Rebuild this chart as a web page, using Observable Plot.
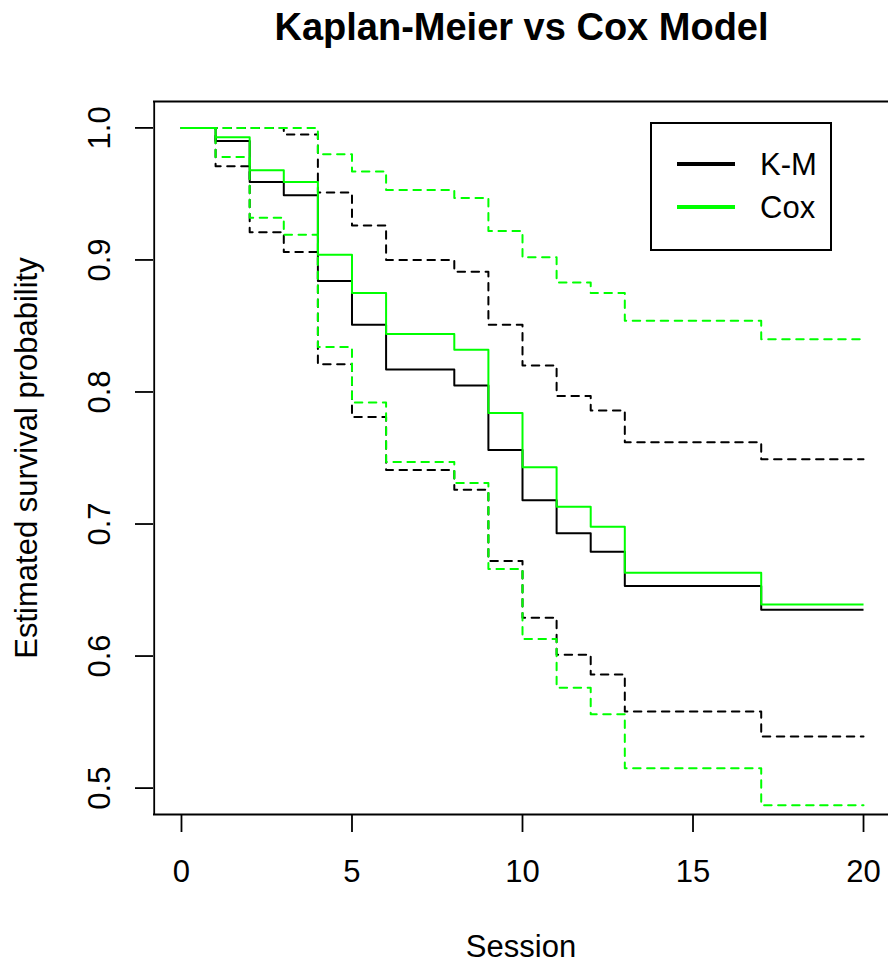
<!DOCTYPE html>
<html>
<head>
<meta charset="utf-8">
<script src="https://cdn.jsdelivr.net/npm/d3@7"></script>
<script src="https://cdn.jsdelivr.net/npm/@observablehq/plot@0.6"></script>
<style>
  html, body { margin: 0; padding: 0; background: #fff; }
  body { width: 888px; height: 963px; overflow: hidden; font-family: "Liberation Sans", Arial, sans-serif; color: #000; }
  #wrap { position: relative; width: 888px; height: 963px; }
  #title { height: 60px; line-height: 55px; margin-left: 153px; width: 737px; text-align: center;
           font-weight: bold; font-size: 38px; white-space: nowrap; }
  #legend { position: absolute; left: 650px; top: 122px; width: 178px; height: 125px;
            border: 2px solid #000; background: #fff; }
  #legend .sw { position: absolute; left: 25px; width: 58px; height: 3.5px; }
  #legend .lab { position: absolute; left: 108px; font-size: 31px; line-height: 31px; white-space: nowrap; }
</style>
</head>
<body>
<div id="wrap">
  <div id="title">Kaplan-Meier vs Cox Model</div>
  <div id="chart"></div>
  <div id="legend"></div>
</div>
<script>
// Follow-up sessions at which the survival curves step down
const times = [0, 1, 2, 3, 4, 5, 6, 8, 9, 10, 11, 12, 13, 17, 20];

// Kaplan-Meier estimate with 95% confidence band
const kmSurv  = [1.000, 0.990, 0.959, 0.949, 0.884, 0.851, 0.817, 0.805, 0.756, 0.718, 0.693, 0.679, 0.653, 0.635, 0.635];
const kmUpper = [1.000, 1.000, 1.000, 0.995, 0.951, 0.926, 0.900, 0.891, 0.851, 0.820, 0.797, 0.786, 0.762, 0.749, 0.749];
const kmLower = [1.000, 0.971, 0.921, 0.906, 0.821, 0.781, 0.741, 0.726, 0.672, 0.629, 0.601, 0.586, 0.558, 0.539, 0.539];

// Cox model prediction with 95% confidence band
const coxSurv  = [1.000, 0.993, 0.968, 0.959, 0.904, 0.875, 0.844, 0.832, 0.784, 0.743, 0.713, 0.698, 0.663, 0.639, 0.639];
const coxUpper = [1.000, 1.000, 1.000, 1.000, 0.980, 0.967, 0.953, 0.947, 0.922, 0.902, 0.883, 0.875, 0.854, 0.840, 0.840];
const coxLower = [1.000, 0.978, 0.932, 0.919, 0.834, 0.792, 0.747, 0.731, 0.666, 0.613, 0.576, 0.556, 0.515, 0.487, 0.487];

// Axis ticks and legend entries
const xTicks = [0, 5, 10, 15, 20];
const yTicks = [0.5, 0.6, 0.7, 0.8, 0.9, 1.0];
const legendItems = [
  {label: "K-M", color: "#000000"},
  {label: "Cox", color: "#00ff00"}
];

const xDomain = [-0.8, 20.8];
const yDomain = [0.48, 1.02];

const KM = "#000000";
const COX = "#00ff00";

const rows = (vals) => times.map((t, i) => ({t, v: vals[i]}));
const step = (vals, stroke, dashed) => Plot.line(rows(vals), {
  x: "t", y: "v", curve: "step-after", stroke,
  strokeWidth: 2,
  strokeDasharray: dashed ? "7.5,6.5" : null,
  strokeLinecap: dashed ? "round" : "butt"
});

const chart = Plot.plot({
  width: 888,
  height: 903,
  marginTop: 41,
  marginBottom: 149,
  marginLeft: 153,
  marginRight: 0,
  style: {fontFamily: "Liberation Sans, Arial, sans-serif", fontSize: "31px", background: "#fff", color: "#000", overflow: "visible"},
  x: {domain: xDomain, range: [153.7, 890.3]},
  y: {domain: yDomain},
  marks: [
    // Kaplan-Meier
    step(kmUpper, KM, true),
    step(kmLower, KM, true),
    step(kmSurv, KM, false),
    // Cox model
    step(coxUpper, COX, true),
    step(coxLower, COX, true),
    step(coxSurv, COX, false),
    // plot box
    Plot.ruleX([xDomain[0]], {stroke: "#000", strokeWidth: 1.8}),
    Plot.ruleY(yDomain, {stroke: "#000", strokeWidth: 1.8}),
    // axes
    Plot.axisX(xTicks, {tickSize: 18, tickPadding: 27, strokeWidth: 1.8, label: null, fontSize: 31}),
    Plot.axisY(yTicks, {tickSize: 18, tickPadding: 26, tickRotate: -90, strokeWidth: 1.8,
                        tickFormat: d3.format(".1f"), label: null, fontSize: 31}),
    // axis titles
    Plot.text(["Session"], {frameAnchor: "bottom", dy: 142, lineAnchor: "bottom", fontSize: 31}),
    Plot.text(["Estimated survival probability"], {frameAnchor: "left", dx: -117, rotate: -90,
                                                   textAnchor: "middle", lineAnchor: "bottom", fontSize: 31})
  ]
});
document.getElementById("chart").appendChild(chart);

// legend drawn inside the plot area
const legend = document.getElementById("legend");
legendItems.forEach((d, i) => {
  const cy = 40 + i * 43;
  const sw = document.createElement("div");
  sw.className = "sw";
  sw.style.top = (cy - 1.75) + "px";
  sw.style.background = d.color;
  legend.appendChild(sw);
  const lab = document.createElement("div");
  lab.className = "lab";
  lab.style.top = (cy - 15) + "px";
  lab.textContent = d.label;
  legend.appendChild(lab);
});
</script>
</body>
</html>
